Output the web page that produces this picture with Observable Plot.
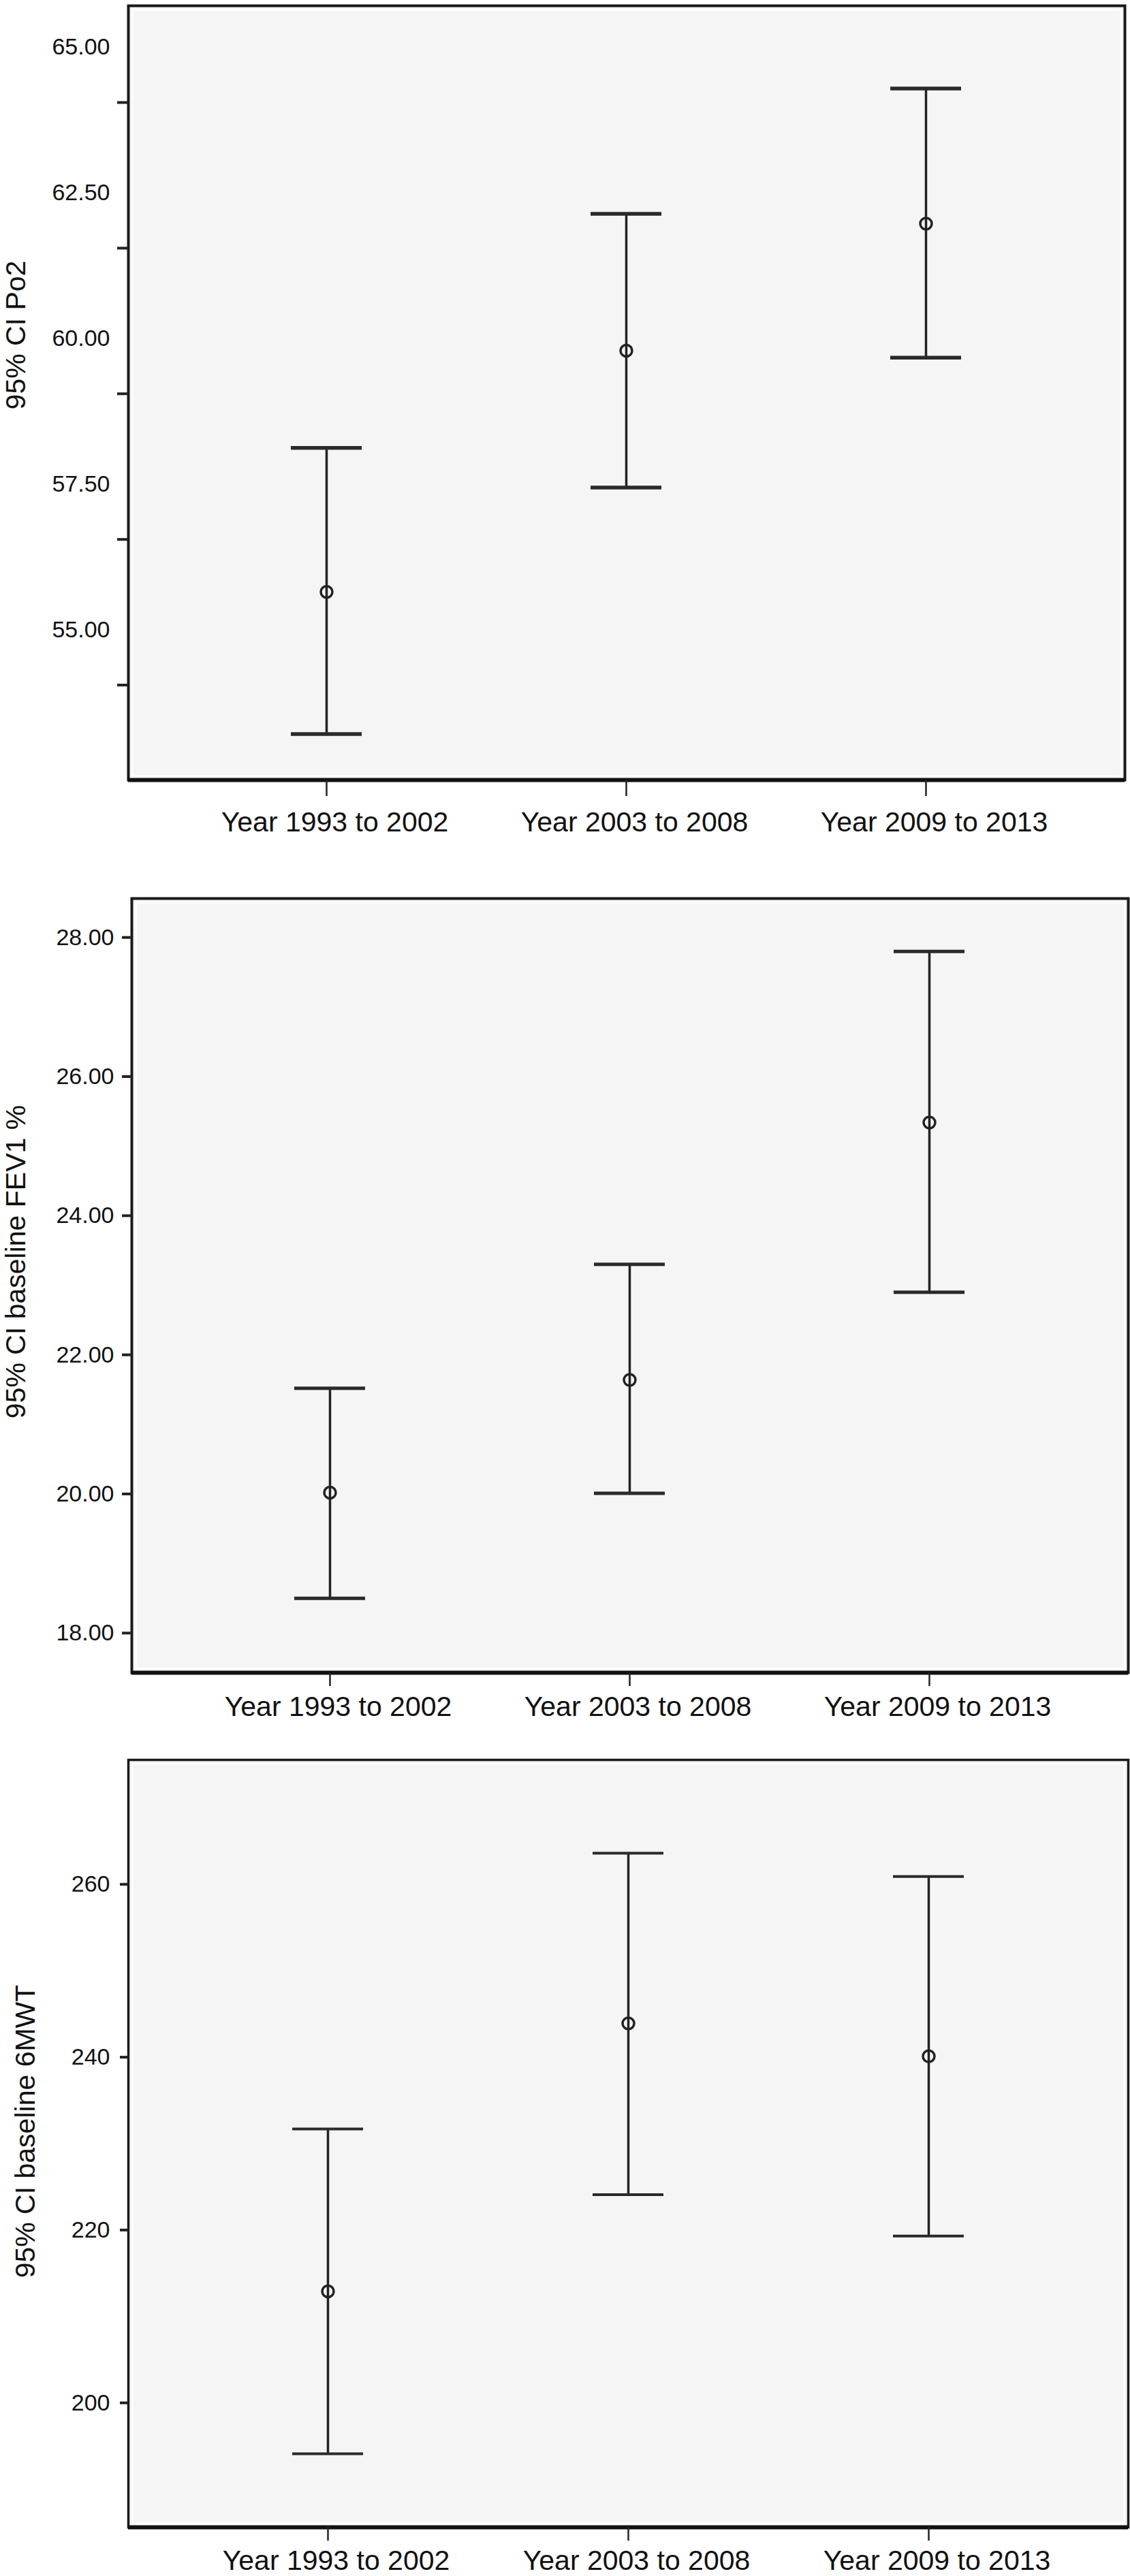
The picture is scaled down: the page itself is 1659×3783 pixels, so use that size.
<!DOCTYPE html>
<html>
<head>
<meta charset="utf-8">
<script src="https://cdn.jsdelivr.net/npm/d3@7"></script>
<script src="https://cdn.jsdelivr.net/npm/@observablehq/plot@0.6"></script>
<style>
  html, body { margin: 0; padding: 0; background: #fff; }
  #chart svg { display: block; }
</style>
</head>
<body>
<div id="chart"></div>
<script>
// ---- data ----
const periods = ["Year 1993 to 2002", "Year 2003 to 2008", "Year 2009 to 2013"];

const po2Mean  = [55.65, 59.79, 61.97];
const po2Lower = [53.21, 57.44, 59.67];
const po2Upper = [58.12, 62.14, 64.29];
const po2TickLabels = [55, 57.5, 60, 62.5, 65];
const po2TickMarks  = [54.05, 56.55, 59.05, 61.55, 64.05];

const fevMean  = [20.02, 21.64, 25.34];
const fevLower = [18.50, 20.01, 22.90];
const fevUpper = [21.52, 23.30, 27.80];
const fevTicks = [18, 20, 22, 24, 26, 28];

const mwtMean  = [212.9, 243.9, 240.1];
const mwtLower = [194.1, 224.1, 219.3];
const mwtUpper = [231.7, 263.6, 260.9];
const mwtTicks = [200, 220, 240, 260];

const titles = ["95% CI Po2", "95% CI baseline FEV1 %", "95% CI baseline 6MWT"];

function rows(mean, lower, upper) {
  return periods.map((p, i) => ({period: p, mean: mean[i], lower: lower[i], upper: upper[i]}));
}

const FONT = "'Liberation Sans', Arial, Helvetica, sans-serif";
const INK = "#222";

function panel(o) {
  const data = rows(o.mean, o.lower, o.upper);
  const marks = [
    Plot.frame({fill: "#f5f5f5"}),
    Plot.frame({stroke: "#ffffff", strokeWidth: 2, inset: 6}),
    Plot.ruleX(data, {x: "period", y1: "lower", y2: "upper", stroke: INK, strokeWidth: 3.5}),
    Plot.tickY(data, {x: "period", y: "lower", stroke: "#2a2a2a", strokeWidth: o.capWidth}),
    Plot.tickY(data, {x: "period", y: "upper", stroke: "#2a2a2a", strokeWidth: o.capWidth}),
    Plot.dot(data, {x: "period", y: "mean", r: 8.5, stroke: INK, strokeWidth: 3.5, fill: "none"}),
    Plot.frame({stroke: "#1a1a1a", strokeWidth: o.frameWidth}),
    Plot.ruleY([o.domain[0]], {stroke: "#111", strokeWidth: 6}),
    // x ticks and labels
    Plot.axisX({tickSize: o.xTickSize, tickFormat: () => "", label: null, strokeWidth: 2.5, stroke: "#222"}),
    Plot.axisX({tickSize: 0, tickPadding: o.xLabelPad, fontSize: 41, dx: 12, label: null, fill: "#111"}),
    // y ticks and labels
    Plot.axisY({ticks: o.tickMarks, tickSize: o.yTickSize, tickFormat: () => "", label: null, strokeWidth: 4, stroke: "#222"}),
    Plot.axisY({ticks: o.ticks, tickSize: 0, tickPadding: o.yLabelPad, tickFormat: o.fmt, fontSize: 34, label: null, fill: "#111"}),
    Plot.text([o.title], {
      text: d => d, frameAnchor: "left", rotate: -90, dx: o.titleDx, dy: o.titleDy,
      fontSize: 41, textAnchor: "middle", lineAnchor: "middle", fill: "#111"
    })
  ];
  return Plot.plot({
    width: 1659,
    height: o.height,
    marginTop: o.mt,
    marginBottom: o.mb,
    marginLeft: o.ml,
    marginRight: o.mr,
    style: {fontFamily: FONT, background: "#ffffff", color: "#111", overflow: "visible"},
    x: {type: "band", domain: periods, paddingInner: 0.7636, paddingOuter: 0.544, axis: null},
    y: {domain: o.domain, axis: null},
    marks
  });
}

const f2 = d3.format(".2f");
const f0 = d3.format("d");

const chart = document.getElementById("chart");

chart.appendChild(panel({
  title: titles[0], mean: po2Mean, lower: po2Lower, upper: po2Upper,
  domain: [52.42, 65.71], ticks: po2TickLabels, tickMarks: po2TickMarks, fmt: f2,
  height: 1262, mt: 8, mb: 117, ml: 188, mr: 8,
  xTickSize: 24, xLabelPad: 46, yTickSize: 16, yLabelPad: 27,
  titleDx: -165, titleDy: -85, capWidth: 5.5, frameWidth: 4
}));

chart.appendChild(panel({
  title: titles[1], mean: fevMean, lower: fevLower, upper: fevUpper,
  domain: [17.43, 28.56], ticks: fevTicks, tickMarks: fevTicks, fmt: f2,
  height: 1270, mt: 57, mb: 76, ml: 193, mr: 3,
  xTickSize: 20, xLabelPad: 34, yTickSize: 14, yLabelPad: 26,
  titleDx: -170, titleDy: -35, capWidth: 5, frameWidth: 4
}));

chart.appendChild(panel({
  title: titles[2], mean: mwtMean, lower: mwtLower, upper: mwtUpper,
  domain: [185.6, 274.4], ticks: mwtTicks, tickMarks: mwtTicks, fmt: f0,
  height: 1251, mt: 52, mb: 72, ml: 188, mr: 3,
  xTickSize: 20, xLabelPad: 33, yTickSize: 12, yLabelPad: 27,
  titleDx: -151, titleDy: -18, capWidth: 4, frameWidth: 3.5
}));
</script>
</body>
</html>
